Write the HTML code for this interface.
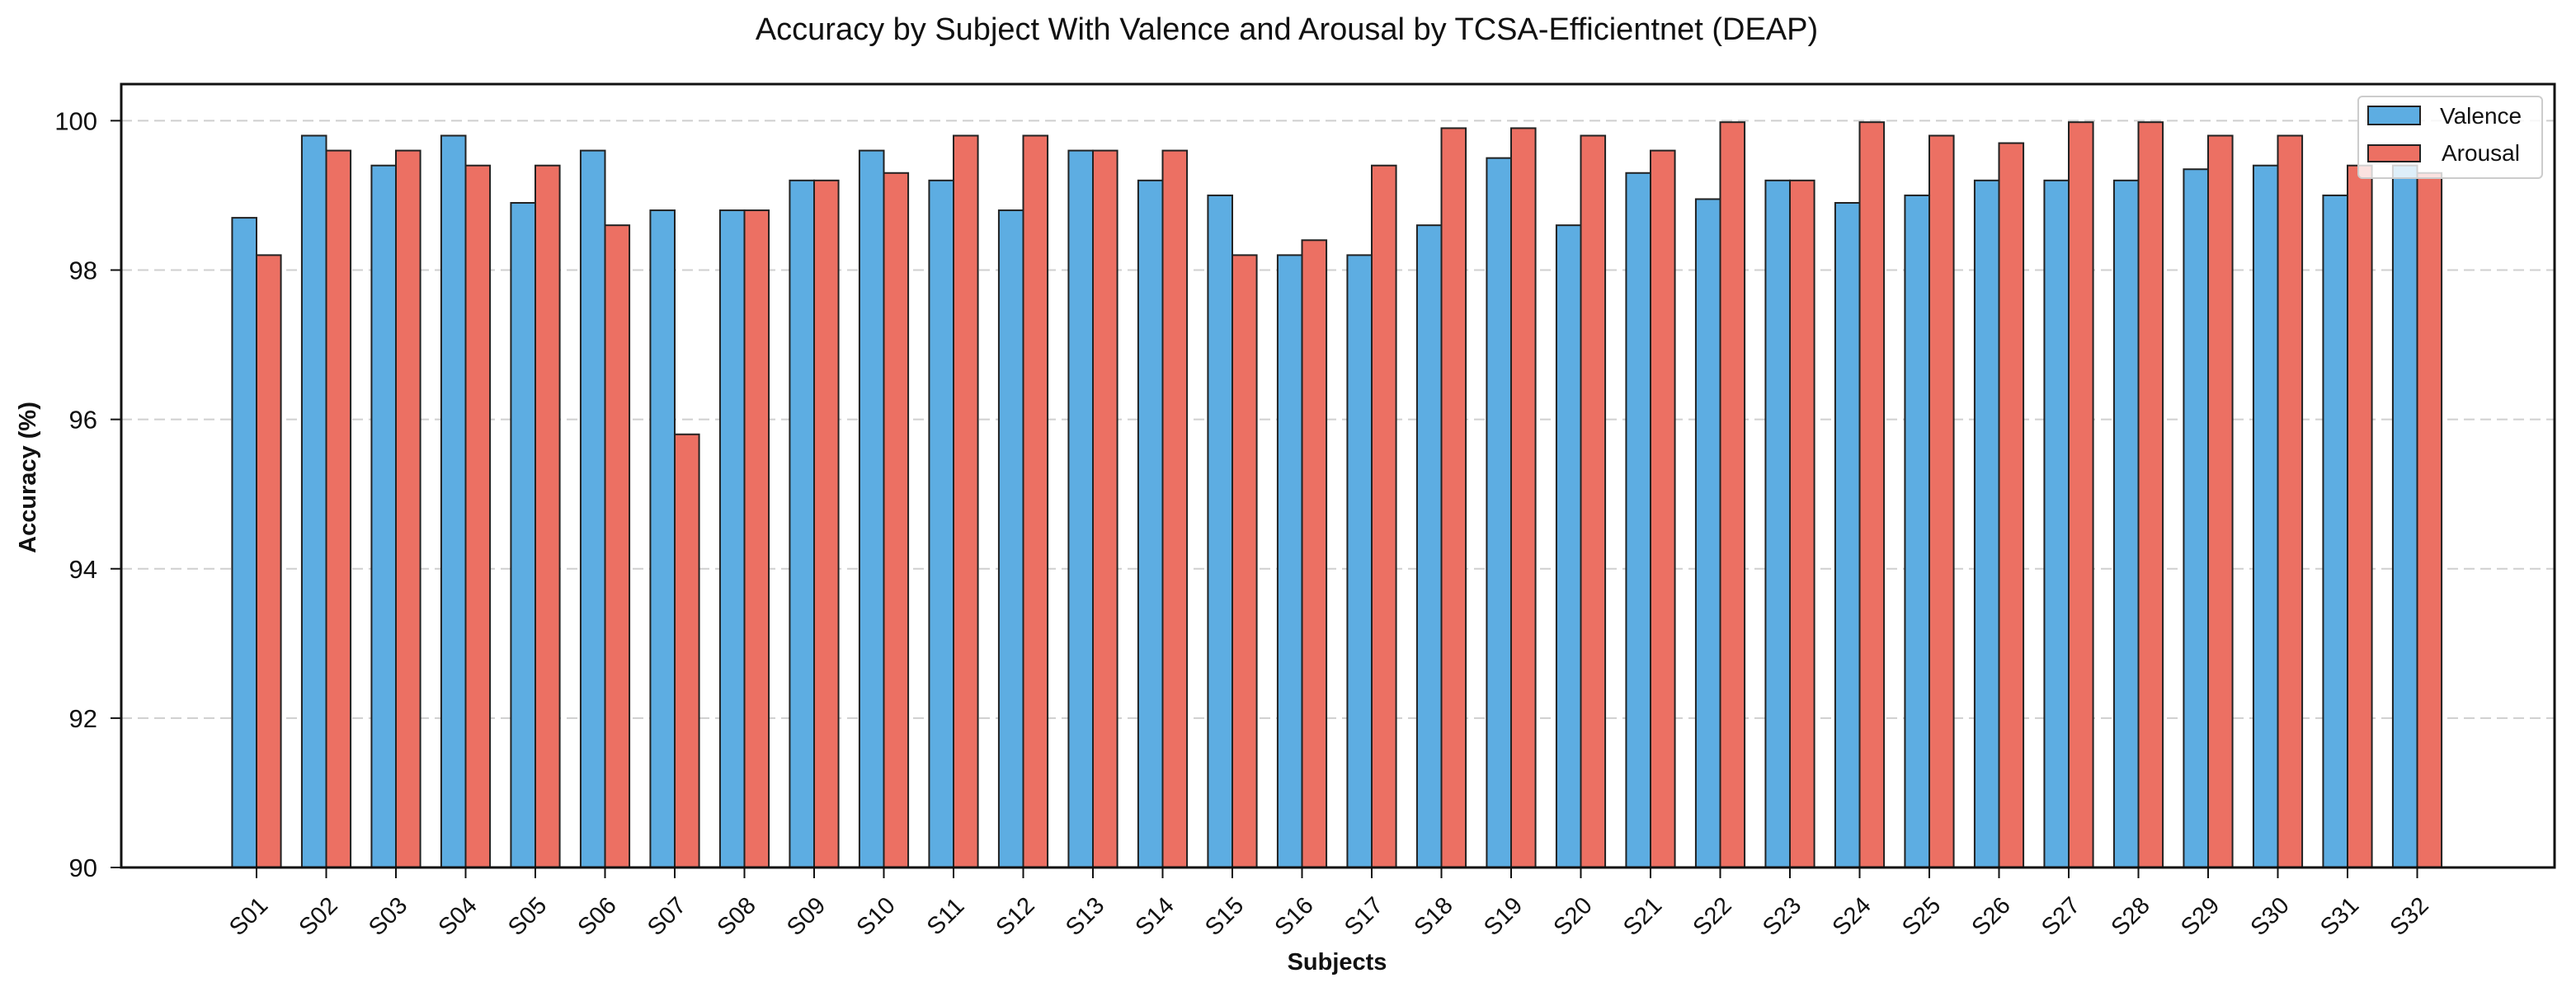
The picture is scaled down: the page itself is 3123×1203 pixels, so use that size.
<!DOCTYPE html>
<html><head><meta charset="utf-8"><style>
html,body{margin:0;padding:0;background:#fff;}
svg{display:block;font-family:"Liberation Sans",Arial,sans-serif;}
</style></head><body>
<svg id="chart" width="3123" height="1203" viewBox="0 0 3123 1203" xmlns="http://www.w3.org/2000/svg">
<rect x="0" y="0" width="3123" height="1203" fill="#fff"/>
<text x="1560" y="48" font-size="38" text-anchor="middle" fill="#111">Accuracy by Subject With Valence and Arousal by TCSA-Efficientnet (DEAP)</text>
<g id="grid"></g>
<g id="bars"></g>
<g id="axes"></g>
<text x="1621" y="1176" font-size="29" font-weight="bold" text-anchor="middle" fill="#111">Subjects</text>
<text transform="translate(43,579) rotate(-90)" font-size="29" font-weight="bold" text-anchor="middle" fill="#111">Accuracy (%)</text>
<g>
<rect x="2859" y="117" width="223" height="99" rx="5" fill="#fff" fill-opacity="0.8" stroke="#ccc" stroke-width="2"/>
<rect x="2871" y="129" width="63" height="22" fill="#5DADE2" stroke="#222" stroke-width="2"/>
<text x="2958" y="150" font-size="28" fill="#111">Valence</text>
<rect x="2871" y="176" width="63" height="20" fill="#EC7063" stroke="#222" stroke-width="2"/>
<text x="2960" y="195" font-size="28" fill="#111">Arousal</text>
</g>
</svg>
<script>
const subjects = ["S01","S02","S03","S04","S05","S06","S07","S08","S09","S10","S11","S12","S13","S14","S15","S16","S17","S18","S19","S20","S21","S22","S23","S24","S25","S26","S27","S28","S29","S30","S31","S32"];
const valence = [98.7,99.8,99.4,99.8,98.9,99.6,98.8,98.8,99.2,99.6,99.2,98.8,99.6,99.2,99.0,98.2,98.2,98.6,99.5,98.6,99.3,98.95,99.2,98.9,99.0,99.2,99.2,99.2,99.35,99.4,99.0,99.4];
const arousal = [98.2,99.6,99.6,99.4,99.4,98.6,95.8,98.8,99.2,99.3,99.8,99.8,99.6,99.6,98.2,98.4,99.4,99.9,99.9,99.8,99.6,99.98,99.2,99.98,99.8,99.7,99.98,99.98,99.8,99.8,99.4,99.3];
const yTicks = [90,92,94,96,98,100];

const NS = "http://www.w3.org/2000/svg";
const L = 147, R = 3097, T = 102, B = 1052;
const yMin = 90, yMax = 100.49;
const x0 = 311, step = 84.5, bw = 0.35 * step;
function yScale(v){ return B - (v - yMin) / (yMax - yMin) * (B - T); }
function xScale(i){ return x0 + i * step; }
function mk(tag, attrs, parent){ const e = document.createElementNS(NS, tag); for (const k in attrs) e.setAttribute(k, attrs[k]); parent.appendChild(e); return e; }

const grid = document.getElementById('grid');
const axes = document.getElementById('axes');
const bars = document.getElementById('bars');

yTicks.forEach(t => {
  const y = yScale(t);
  if (t > yMin) {
    const g = mk('line', {x1:L, x2:R, y1:y, y2:y, stroke:'#cfcfcf', 'stroke-width':2, 'stroke-dasharray':'13,7'}, grid);
    
    
  }
  const tk = mk('line', {x1:L-13, x2:L, y1:y, y2:y, stroke:'#111', 'stroke-width':2}, axes);
  
  
  const lb = mk('text', {x:118, y:y+11, 'font-size':31, 'text-anchor':'end', fill:'#111'}, axes);
  lb.textContent = String(t);
  
  
});

subjects.forEach((s, i) => {
  const cx = xScale(i);
  const vy = yScale(valence[i]);
  const vb = mk('rect', {x:cx-bw, y:vy, width:bw, height:B-vy, fill:'#5DADE2', stroke:'#222', 'stroke-width':2}, bars);
  
  
  const ay = yScale(arousal[i]);
  const ab = mk('rect', {x:cx, y:ay, width:bw, height:B-ay, fill:'#EC7063', stroke:'#222', 'stroke-width':2}, bars);
  
  
  const tk = mk('line', {x1:cx, x2:cx, y1:B, y2:B+13, stroke:'#111', 'stroke-width':2}, axes);
  
  
  const lb = mk('text', {'font-size':29, 'text-anchor':'middle', fill:'#111', transform:'translate(' + (cx-3) + ',1118) rotate(-45)'}, axes);
  lb.textContent = s;
  
  
});

const frame = mk('rect', {x:L, y:T, width:R-L, height:B-T, fill:'none', stroke:'#111', 'stroke-width':3}, axes);


</script>
</body></html>
